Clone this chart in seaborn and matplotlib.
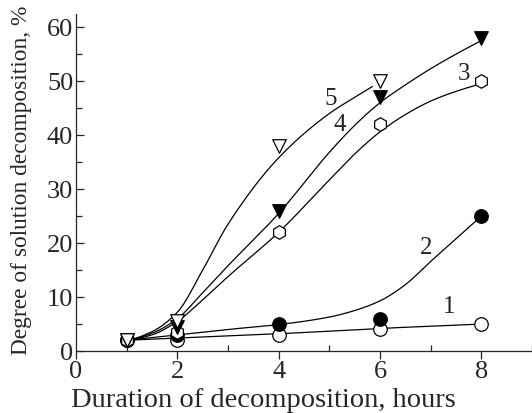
import numpy as np
import pandas as pd
import matplotlib
matplotlib.use("Agg")
import matplotlib.pyplot as plt
import seaborn as sns
from matplotlib.ticker import MultipleLocator

# ---- data ----
hours = [1, 2, 4, 6, 8]
s1 = [2, 2, 3, 4, 5]
s2 = [2, 3, 5, 6, 25]
s3 = [2, 3.5, 22, 42, 50]
s4 = [2, 4.5, 26, 47, 58]
hours5 = [1, 2, 4, 6]
s5 = [2, 5.5, 38, 50]

# fitted curves (at node hours)
cx = [1, 1.5, 2, 2.5, 3, 4, 5, 5.5, 6, 6.5, 7, 7.5, 8]
c1 = [2, 2.2, 2.4, 2.6, 2.8, 3.2, 3.7, 3.95, 4.2, 4.4, 4.6, 4.8, 5.0]
c2 = [2, 2.5, 3.0, 3.5, 4.0, 4.9, 6.3, 7.5, 9.3, 12.3, 16.6, 20.8, 25]
c3 = [2, 3.0, 5.5, 9.5, 13.8, 22, 31.7, 36.5, 40.6, 43.8, 46.3, 48.1, 49.5]
c4 = [2, 3.3, 6.0, 10.8, 15.8, 25.5, 36.8, 41.8, 46, 49.3, 52.3, 55.0, 57.5]
cx5 = [1, 1.5, 2, 2.5, 3, 4, 5, 5.5, 5.85]
c5 = [2, 3.6, 7.2, 15.0, 23.5, 35.8, 44, 47.0, 49.0]

curve_labels = ["1", "2", "3", "4", "5"]
label_pos = [(7.37, 8.2), (6.92, 19.0), (7.65, 51.3), (5.2, 41.8), (5.03, 46.7)]


def pchip(x, y, n=300):
    x = np.asarray(x, float); y = np.asarray(y, float)
    h = np.diff(x); d = np.diff(y) / h
    m = np.zeros_like(y)
    for i in range(1, len(x) - 1):
        if d[i - 1] * d[i] > 0:
            w1 = 2 * h[i] + h[i - 1]; w2 = h[i] + 2 * h[i - 1]
            m[i] = (w1 + w2) / (w1 / d[i - 1] + w2 / d[i])
    m[0] = ((2 * h[0] + h[1]) * d[0] - h[0] * d[1]) / (h[0] + h[1])
    if m[0] * d[0] <= 0:
        m[0] = 0
    m[-1] = ((2 * h[-1] + h[-2]) * d[-1] - h[-1] * d[-2]) / (h[-1] + h[-2])
    if m[-1] * d[-1] <= 0:
        m[-1] = 0
    xs = np.linspace(x[0], x[-1], n)
    ys = np.empty_like(xs)
    for k, xv in enumerate(xs):
        i = min(np.searchsorted(x, xv, side="right") - 1, len(x) - 2)
        t = (xv - x[i]) / h[i]
        h00 = 2 * t**3 - 3 * t**2 + 1; h10 = t**3 - 2 * t**2 + t
        h01 = -2 * t**3 + 3 * t**2; h11 = t**3 - t**2
        ys[k] = h00 * y[i] + h10 * h[i] * m[i] + h01 * y[i + 1] + h11 * h[i] * m[i + 1]
    return xs, ys


sns.set_style("ticks")
plt.rcParams["font.family"] = ["Liberation Serif", "DejaVu Serif"]

fig = plt.figure(figsize=(5.32, 4.13), dpi=100)
ax = fig.add_axes([0.1429, 0.150, 0.8571, 0.817])

for xs_, ys_ in [(cx, c1), (cx, c2), (cx, c3), (cx, c4), (cx5, c5)]:
    sx, sy = pchip(xs_, ys_)
    sns.lineplot(x=sx, y=sy, ax=ax, color="black", lw=0.9, sort=False, zorder=2)

msz = 95
specs = [
    (hours, s1, "o", "white"),
    (hours, s2, "o", "black"),
    (hours, s3, "h", "white"),
    (hours, s4, "v", "black"),
    (hours5, s5, "v", "white"),
]
for xs_, ys_, mk, fc in specs:
    sns.scatterplot(x=xs_, y=ys_, ax=ax, marker=mk, s=msz, color=fc,
                    edgecolor="black", linewidth=0.9, zorder=3)

for lab, (lx, ly) in zip(curve_labels, label_pos):
    ax.text(lx, ly, lab, fontsize=18, ha="center", va="center", zorder=4)

ax.set_xlim(0, 9)
ax.set_ylim(0, 62.5)
ax.xaxis.set_major_locator(MultipleLocator(2))
ax.xaxis.set_minor_locator(MultipleLocator(1))
ax.yaxis.set_major_locator(MultipleLocator(10))
ax.yaxis.set_minor_locator(MultipleLocator(5))
ax.tick_params(axis="x", which="major", direction="out", length=6, width=0.9,
               labelsize=19, pad=1.5)
ax.tick_params(axis="x", which="minor", direction="in", length=4, width=0.9)
ax.tick_params(axis="y", which="major", direction="in", length=6, width=0.9,
               labelsize=19, pad=2)
ax.tick_params(axis="y", which="minor", direction="in", length=4, width=0.9)
sns.despine(ax=ax)
for sp in ["left", "bottom"]:
    ax.spines[sp].set_linewidth(0.9)

ax.set_xlabel("Duration of decomposition, hours", fontsize=20.5)
ax.set_ylabel("Degree of solution decomposition, %", fontsize=16.8)
ax.xaxis.set_label_coords(0.411, -0.11)
ax.yaxis.set_label_coords(-0.097, 0.507)

fig.savefig("out.png", dpi=100)
